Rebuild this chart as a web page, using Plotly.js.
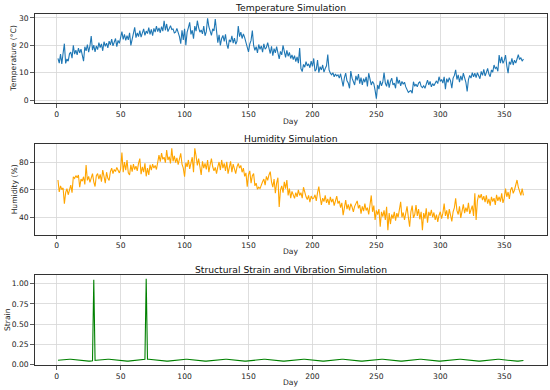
<!DOCTYPE html>
<html>
<head>
<meta charset="utf-8">
<script src="https://cdn.plot.ly/plotly-3.0.1.min.js"></script>
<style>html,body{margin:0;padding:0;background:#fff;}#chart{width:550px;height:390px;}</style>
</head>
<body>
<div id="chart"></div>
<script>
// Day numbers (x categories)
const days = Array.from({length: 365}, (_, i) => i + 1);

const temperature = [
15.2,13.5,16.8,13.2,17.1,20.6,13.4,15.0,14.2,16.9,
17.5,15.3,20.0,16.8,18.2,16.5,19.0,17.2,18.6,16.8,
14.2,19.5,18.0,20.3,17.5,19.8,23.4,18.2,20.1,17.6,
19.8,18.4,21.0,19.2,20.5,18.0,21.3,19.6,20.8,19.1,
21.5,20.2,22.3,19.8,21.0,22.5,19.5,21.8,20.7,22.4,
25.0,22.2,24.0,21.8,23.5,22.0,24.6,20.0,22.5,23.8,
26.6,22.8,24.5,23.2,25.4,23.0,24.8,26.0,23.6,25.2,
24.3,26.5,24.0,25.8,23.5,26.2,24.8,27.0,25.0,26.4,
24.6,26.8,25.2,29.0,25.5,27.8,25.0,26.5,27.2,25.8,
26.0,24.5,24.8,26.2,25.0,23.2,20.6,25.5,22.0,26.0,
20.0,24.8,26.5,28.4,24.0,25.5,22.4,27.0,25.2,29.0,
26.5,24.8,25.6,24.2,27.0,23.5,25.0,29.9,26.8,25.2,
23.6,26.0,25.3,29.6,24.5,21.0,23.8,20.0,22.5,23.6,
21.4,24.0,20.5,18.8,22.0,21.2,23.5,20.8,22.6,20.4,
21.5,27.0,23.2,24.8,22.5,24.2,22.8,21.0,19.5,17.6,
20.5,21.8,25.4,20.0,18.2,19.5,17.2,20.3,18.5,19.8,
17.5,20.5,18.6,19.2,21.0,18.3,17.0,19.6,16.2,18.8,
17.2,19.5,16.8,15.0,17.8,16.5,20.0,17.5,15.6,18.2,
16.0,17.4,15.2,16.5,14.8,16.2,14.0,15.8,13.5,19.0,
11.5,10.4,13.0,12.0,14.0,12.5,13.2,11.8,14.2,12.3,
15.2,10.5,11.2,14.6,10.0,12.2,11.0,12.8,10.2,11.5,
12.5,16.6,11.0,9.8,9.2,10.0,8.5,9.5,8.8,9.2,
8.0,9.6,7.5,5.0,8.2,9.8,7.0,6.2,4.3,10.6,
8.0,6.5,5.5,8.8,7.2,9.5,6.0,8.2,5.5,7.8,
6.5,8.5,5.0,9.8,7.0,5.5,6.8,6.0,3.5,0.5,
5.5,4.0,7.0,5.2,6.5,10.0,6.2,5.0,7.5,4.5,
6.8,8.0,5.5,6.2,4.3,8.5,6.0,7.3,5.2,6.8,
5.8,6.5,4.8,3.5,2.8,3.2,3.5,2.5,6.7,5.0,
5.8,4.8,6.2,6.7,5.0,4.5,5.2,4.3,5.5,7.3,
5.5,6.8,4.8,6.0,5.2,6.5,7.0,6.0,8.5,6.8,
7.5,6.2,8.5,4.0,7.8,6.5,8.2,7.0,4.3,8.0,
9.0,11.0,7.5,9.2,6.5,8.8,7.2,9.8,8.0,6.5,
3.1,7.5,9.0,8.0,10.0,8.5,9.8,8.2,10.0,9.0,
7.8,10.5,9.0,11.2,8.8,10.0,11.6,9.5,8.5,11.0,
10.2,12.8,11.5,12.0,10.5,16.4,13.5,15.8,13.4,14.5,
16.4,12.5,9.8,14.0,13.0,15.2,12.8,14.6,13.5,15.0,
16.6,14.8,15.5,14.2,15.0
];

const humidity = [
67.3,58.5,63.0,60.2,61.5,50.0,58.0,61.0,56.5,60.5,
63.6,58.0,69.7,68.5,70.5,69.0,71.0,62.0,68.0,66.5,
69.7,64.0,78.3,67.0,70.0,65.5,68.5,72.0,66.0,62.5,
70.5,72.0,68.0,71.5,66.0,74.6,70.0,65.0,73.0,68.5,
67.0,73.5,76.0,72.0,75.0,73.5,76.5,74.0,72.5,75.5,
87.4,73.0,80.5,74.5,82.0,72.5,71.0,78.5,73.5,79.0,
75.0,77.5,74.0,79.5,83.0,71.5,77.0,73.0,79.5,70.0,
76.0,71.0,78.5,74.6,79.0,76.0,78.0,75.0,79.5,85.6,
80.7,87.0,82.5,84.0,80.0,89.3,82.0,84.4,79.5,90.5,
81.0,85.0,80.0,83.5,78.5,82.0,86.9,79.0,76.0,69.7,
80.0,77.0,82.0,75.5,79.0,84.0,73.0,90.5,85.0,78.0,
83.0,76.5,71.0,81.0,76.0,79.5,75.0,82.0,73.0,78.5,
83.0,77.0,74.0,76.5,72.0,77.0,80.5,74.6,82.0,76.0,
79.5,74.0,80.7,72.0,78.0,81.0,73.0,79.0,75.5,72.0,
77.0,79.5,76.0,78.0,73.0,76.0,70.0,72.5,62.4,71.0,
74.0,65.0,70.5,72.0,63.0,65.0,60.5,62.0,61.0,64.5,
66.0,68.0,63.6,70.0,67.0,71.0,73.4,66.0,62.0,68.0,
57.6,65.0,69.0,47.6,60.0,63.0,58.0,66.0,61.0,67.3,
56.0,61.0,54.0,59.0,56.5,53.8,58.0,55.0,60.0,56.0,
58.0,54.0,62.0,57.0,55.0,53.0,56.0,51.0,55.5,53.5,
54.0,56.5,52.0,58.0,62.4,55.0,49.0,54.0,51.5,56.0,
50.5,53.5,49.0,55.0,51.0,53.5,48.5,52.0,55.5,50.0,
52.0,47.0,50.5,41.5,48.0,52.5,46.0,49.5,45.0,50.0,
47.5,44.0,48.0,50.5,52.0,46.5,49.0,42.7,48.0,44.5,
50.0,45.0,47.0,42.0,49.5,56.0,44.0,48.5,38.0,45.0,
42.0,46.0,33.0,44.0,40.5,45.0,38.0,47.6,30.5,43.0,
35.0,42.0,39.0,44.0,37.5,43.0,40.0,46.0,51.3,40.0,
43.5,38.0,42.0,48.0,40.0,33.0,44.0,48.5,39.5,42.0,
49.0,41.0,46.0,38.5,44.0,30.5,43.0,39.0,46.5,36.0,
44.0,41.0,45.5,40.0,43.5,38.0,42.0,36.6,41.5,44.0,
39.0,43.0,50.0,41.0,45.0,38.5,46.0,40.0,37.0,44.0,
47.0,53.8,45.0,42.0,48.0,39.5,46.0,49.5,43.0,47.0,
44.0,50.5,42.5,46.0,48.5,41.0,57.5,38.0,52.0,56.5,
54.0,57.0,52.5,55.5,51.0,56.0,50.0,53.5,48.5,55.0,
51.5,54.0,49.0,56.5,52.0,55.0,51.5,57.5,50.5,54.0,
61.0,55.0,58.5,53.5,60.0,62.0,57.5,60.0,64.5,67.3,
62.0,58.0,56.0,61.0,56.0
];

const strain = [
0.055,0.057,0.060,0.062,0.064,0.065,0.066,0.067,0.067,0.066,0.066,0.064,0.062,0.060,0.058,0.055,0.053,0.051,0.048,0.047,0.045,0.044,0.043,0.043,0.043,0.044,0.046,0.047,1.050,0.052,
0.055,0.057,0.060,0.062,0.064,0.065,0.066,0.067,0.067,0.066,0.066,0.064,0.062,0.060,0.058,0.055,0.053,0.051,0.048,0.047,0.045,0.044,0.043,0.043,0.043,0.044,0.046,0.047,0.049,0.052,0.054,
0.055,0.057,0.060,0.062,0.064,0.065,0.066,0.067,1.060,0.066,0.066,0.064,0.062,0.060,0.058,0.055,0.053,0.051,0.048,0.047,0.045,0.044,0.043,0.043,0.043,0.044,0.046,0.047,0.049,0.052,
0.055,0.057,0.060,0.062,0.064,0.065,0.066,0.067,0.067,0.066,0.066,0.064,0.062,0.060,0.058,0.055,0.053,0.051,0.048,0.047,0.045,0.044,0.043,0.043,0.043,0.044,0.046,0.047,0.049,0.052,0.054,
0.055,0.057,0.060,0.062,0.064,0.065,0.066,0.067,0.067,0.066,0.066,0.064,0.062,0.060,0.058,0.055,0.053,0.051,0.048,0.047,0.045,0.044,0.043,0.043,0.043,0.044,0.046,0.047,0.049,0.052,
0.055,0.057,0.060,0.062,0.064,0.065,0.066,0.067,0.067,0.066,0.066,0.064,0.062,0.060,0.058,0.055,0.053,0.051,0.048,0.047,0.045,0.044,0.043,0.043,0.043,0.044,0.046,0.047,0.049,0.052,0.054,
0.055,0.057,0.060,0.062,0.064,0.065,0.066,0.067,0.067,0.066,0.066,0.064,0.062,0.060,0.058,0.055,0.053,0.051,0.048,0.047,0.045,0.044,0.043,0.043,0.043,0.044,0.046,0.047,0.049,0.052,
0.055,0.057,0.060,0.062,0.064,0.065,0.066,0.067,0.067,0.066,0.066,0.064,0.062,0.060,0.058,0.055,0.053,0.051,0.048,0.047,0.045,0.044,0.043,0.043,0.043,0.044,0.046,0.047,0.049,0.052,0.054,
0.055,0.057,0.060,0.062,0.064,0.065,0.066,0.067,0.067,0.066,0.066,0.064,0.062,0.060,0.058,0.055,0.053,0.051,0.048,0.047,0.045,0.044,0.043,0.043,0.043,0.044,0.046,0.047,0.049,0.052,
0.055,0.057,0.060,0.062,0.064,0.065,0.066,0.067,0.067,0.066,0.066,0.064,0.062,0.060,0.058,0.055,0.053,0.051,0.048,0.047,0.045,0.044,0.043,0.043,0.043,0.044,0.046,0.047,0.049,0.052,0.054,
0.055,0.057,0.060,0.062,0.064,0.065,0.066,0.067,0.067,0.066,0.066,0.064,0.062,0.060,0.058,0.055,0.053,0.051,0.048,0.047,0.045,0.044,0.043,0.043,0.043,0.044,0.046,0.047,0.049,0.052,
0.055,0.057,0.060,0.062,0.064,0.065,0.066,0.067,0.067,0.066,0.066,0.064,0.062,0.060,0.058,0.055,0.053,0.051,0.048,0.047,0.045,0.044,0.043,0.043,0.043,0.044,0.046,0.047,0.049,0.052
];

const xTicks = [0, 50, 100, 150, 200, 250, 300, 350];
const tempTicks = [0, 10, 20, 30];
const humTicks = [40, 60, 80];
const strainTicks = [0, 0.25, 0.5, 0.75, 1.0];

const W = 550, H = 390;
const FONT = 'DejaVu Sans, sans-serif';
const axL = 34.7, axR = 546.7;
const xdom = [axL / W, axR / W];
const panels = [
  {top: 14, bottom: 103.3},
  {top: 144, bottom: 234.7},
  {top: 274.7, bottom: 365.3}
];
const ydom = p => [1 - p.bottom / H, 1 - p.top / H];

const baseAxis = {
  showline: true, mirror: true, linecolor: '#333', linewidth: 1,
  showgrid: true, gridcolor: '#d6d6d6', gridwidth: 0.8,
  ticks: 'outside', ticklen: 3.5, tickwidth: 0.8, tickcolor: '#333',
  tickfont: {family: FONT, size: 7.6, color: '#222'},
  zeroline: false, fixedrange: true
};

function xa(anchor, i) {
  return Object.assign({}, baseAxis, {
    domain: xdom, anchor: anchor, range: [-17.2, 383.2],
    tickmode: 'array', tickvals: xTicks, ticktext: xTicks.map(String)
  });
}

const layout = {
  width: W, height: H,
  margin: {l: 0, r: 0, t: 0, b: 0},
  paper_bgcolor: '#fff', plot_bgcolor: '#fff',
  showlegend: false,
  font: {family: FONT, color: '#222'},
  xaxis: xa('y'),
  xaxis2: xa('y2'),
  xaxis3: xa('y3'),
  yaxis: Object.assign({}, baseAxis, {domain: ydom(panels[0]), anchor: 'x', range: [-1.2, 31.45],
    tickmode: 'array', tickvals: tempTicks, ticktext: tempTicks.map(String)}),
  yaxis2: Object.assign({}, baseAxis, {domain: ydom(panels[1]), anchor: 'x2', range: [27.2, 93.7],
    tickmode: 'array', tickvals: humTicks, ticktext: humTicks.map(String)}),
  yaxis3: Object.assign({}, baseAxis, {domain: ydom(panels[2]), anchor: 'x3', range: [-0.008, 1.111],
    tickmode: 'array', tickvals: strainTicks, ticktext: strainTicks.map(v => v.toFixed(2))}),
  annotations: []
};

const titles = ['Temperature Simulation', 'Humidity Simulation', 'Structural Strain and Vibration Simulation'];
const titleY = [7.5, 138, 269];
const dayY = [121.5, 251.5, 382.5];
const yLabels = ['Temperature (°C)', 'Humidity (%)', 'Strain'];
const yLabelX = [14, 14, 7];
const cx = (axL + axR) / 2;
for (let i = 0; i < 3; i++) {
  layout.annotations.push({text: titles[i], xref: 'paper', yref: 'paper', x: cx / W, y: 1 - titleY[i] / H,
    xanchor: 'center', yanchor: 'middle', showarrow: false, font: {family: FONT, size: 9.2, color: '#111'}});
  layout.annotations.push({text: 'Day', xref: 'paper', yref: 'paper', x: cx / W, y: 1 - dayY[i] / H,
    xanchor: 'center', yanchor: 'middle', showarrow: false, font: {family: FONT, size: 7.6, color: '#222'}});
  const p = panels[i];
  layout.annotations.push({text: yLabels[i], xref: 'paper', yref: 'paper', x: yLabelX[i] / W, y: 1 - ((p.top + p.bottom) / 2) / H,
    xanchor: 'center', yanchor: 'middle', textangle: -90, showarrow: false, font: {family: FONT, size: 7.6, color: '#222'}});
}

const traces = [
  {x: days, y: temperature, type: 'scatter', mode: 'lines', line: {color: '#1f77b4', width: 1.1}, xaxis: 'x', yaxis: 'y'},
  {x: days, y: humidity, type: 'scatter', mode: 'lines', line: {color: '#ffa500', width: 1.1}, xaxis: 'x2', yaxis: 'y2'},
  {x: days, y: strain, type: 'scatter', mode: 'lines', line: {color: '#008000', width: 1.1}, xaxis: 'x3', yaxis: 'y3'}
];

Plotly.newPlot('chart', traces, layout, {staticPlot: true, displayModeBar: false});
</script>
</body>
</html>
